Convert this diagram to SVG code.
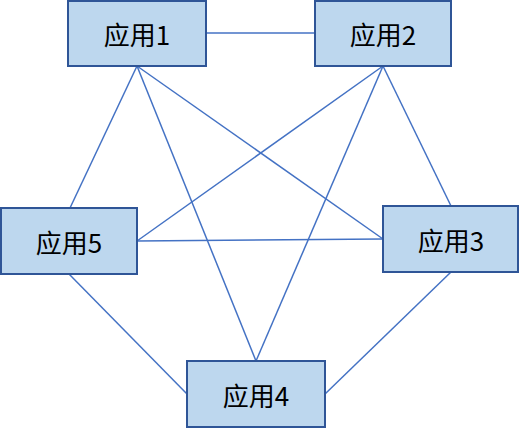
<svg xmlns="http://www.w3.org/2000/svg" width="520" height="429" viewBox="0 0 520 429">
<style>
.node rect{fill:#BDD7EE;stroke:#2F5597;stroke-width:2}
.node text{font-family:"Microsoft YaHei","Noto Sans CJK SC","Noto Sans",sans-serif;font-size:26px;fill:#000;text-anchor:middle;dominant-baseline:central}
.edges line{stroke:#4472C4;stroke-width:1.5}
</style>
<rect width="520" height="429" fill="#fff"/>
<g class="edges" id="connectors">
<line x1="206" y1="33" x2="315" y2="33"/>
<line x1="137" y1="66" x2="70" y2="208"/>
<line x1="137" y1="66" x2="256" y2="361"/>
<line x1="137" y1="66" x2="383" y2="239"/>
<line x1="383" y1="66" x2="137" y2="241"/>
<line x1="383" y1="66" x2="256" y2="361"/>
<line x1="383" y1="66" x2="451" y2="206"/>
<line x1="137" y1="241" x2="383" y2="239"/>
<line x1="69" y1="274" x2="187" y2="394"/>
<line x1="451" y1="272" x2="325" y2="394"/>
</g>
<g class="node" id="node1"><rect x="68" y="1" width="138" height="65"/><text x="137" y="33">应用1</text></g>
<g class="node" id="node2"><rect x="315" y="1" width="136" height="65"/><text x="383" y="33">应用2</text></g>
<g class="node" id="node3"><rect x="383" y="206" width="135" height="66"/><text x="451" y="239">应用3</text></g>
<g class="node" id="node4"><rect x="187" y="361" width="138" height="66"/><text x="256" y="394">应用4</text></g>
<g class="node" id="node5"><rect x="1" y="208" width="136" height="66"/><text x="69" y="241">应用5</text></g>
</svg>
